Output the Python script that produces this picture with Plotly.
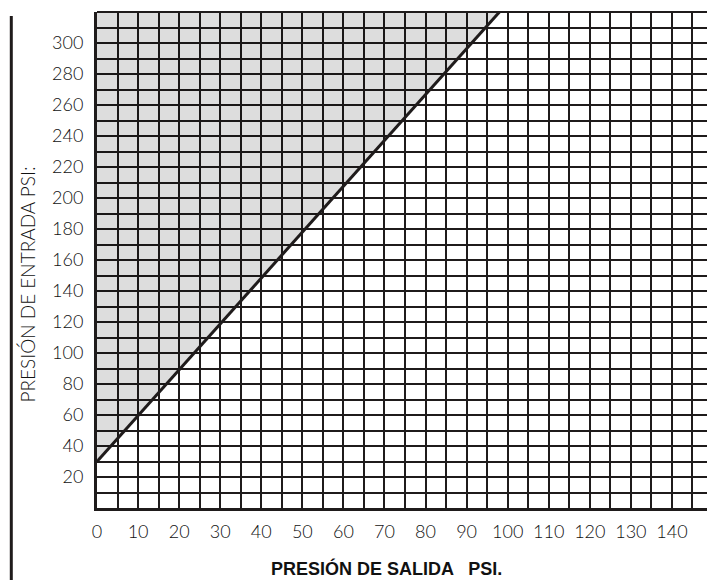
import plotly.graph_objects as go

# Data
x_ticks = list(range(0, 150, 10))          # 0..140
y_ticks = list(range(20, 320, 20))         # 20..300
line_outlet = [0, 98]                      # PRESIÓN DE SALIDA (psi)
line_inlet = [30, 320]                     # PRESIÓN DE ENTRADA (psi)
x_max = 150
y_max = 320

INK = "#1f1b1b"
OFF = 8                      # page body margin in the browser
W, H = 715 - OFF, 580 - OFF
L, R, T, B = 97 - OFF, 2, 12 - OFF, 72

fig = go.Figure()

# shaded region above the line
fig.add_trace(go.Scatter(
    x=[line_outlet[0], line_outlet[1], line_outlet[0], line_outlet[0]],
    y=[line_inlet[0], line_inlet[1], line_inlet[1], line_inlet[0]],
    mode="lines", fill="toself", fillcolor="rgba(0,0,0,0.135)",
    line=dict(width=0), hoverinfo="skip", showlegend=False,
))
# diagonal limit line
fig.add_trace(go.Scatter(
    x=line_outlet, y=line_inlet, mode="lines",
    line=dict(color=INK, width=3), showlegend=False,
))

tick_font = dict(family="Lato", size=18, color="#111111", weight=300)

fig.update_xaxes(
    range=[0, x_max], tickmode="array", tickvals=x_ticks,
    ticktext=[str(v) for v in x_ticks], tickfont=tick_font,
    showgrid=True, gridcolor=INK, gridwidth=1.8,
    minor=dict(dtick=5, tick0=0, showgrid=True, gridcolor=INK, gridwidth=1.8),
    showline=True, linecolor=INK, linewidth=3, mirror=False,
    ticks="", ticklabelstandoff=5, zeroline=False, fixedrange=True,
)
fig.update_yaxes(
    range=[0, y_max], tickmode="array", tickvals=y_ticks,
    ticktext=[str(v) for v in y_ticks], tickfont=tick_font,
    showgrid=True, gridcolor=INK, gridwidth=1.8,
    minor=dict(dtick=10, tick0=0, showgrid=True, gridcolor=INK, gridwidth=1.8),
    showline=True, linecolor=INK, linewidth=3, mirror=False,
    ticks="", ticklabelstandoff=7, zeroline=False, fixedrange=True,
)

pw = W - L - R
ph = H - T - B

def px_x(p):
    return (p - OFF - L) / pw

def px_y(p):
    return (H - B - (p - OFF)) / ph

shapes = [
    # top and right borders
    dict(type="line", xref="paper", yref="paper", x0=0, x1=1, y0=1, y1=1,
         line=dict(color=INK, width=2)),
    dict(type="line", xref="paper", yref="paper", x0=1, x1=1, y0=0, y1=1,
         line=dict(color=INK, width=2)),
    # vertical rule at far left
    dict(type="line", xref="paper", yref="paper", x0=px_x(11.3), x1=px_x(11.3),
         y0=px_y(16), y1=px_y(585), line=dict(color=INK, width=3)),
]

annotations = [
    dict(text="PRESIÓN DE ENTRADA PSI:", xref="paper", yref="paper",
         x=px_x(26.5), y=px_y(285), xanchor="center", yanchor="middle",
         textangle=-90, showarrow=False,
         font=dict(family="Lato", size=19, color="#111111", weight=300)),
    dict(text="PRESIÓN DE SALIDA &nbsp; PSI.", xref="paper", yref="paper",
         x=px_x(386), y=px_y(568), xanchor="center", yanchor="middle",
         showarrow=False,
         font=dict(family="Liberation Sans", size=18, color="#111111", weight="bold")),
]

fig.update_layout(
    width=W, height=H, margin=dict(l=L, r=R, t=T, b=B),
    paper_bgcolor="white", plot_bgcolor="white",
    shapes=shapes, annotations=annotations, showlegend=False,
)

fig.write_html("out.html")
